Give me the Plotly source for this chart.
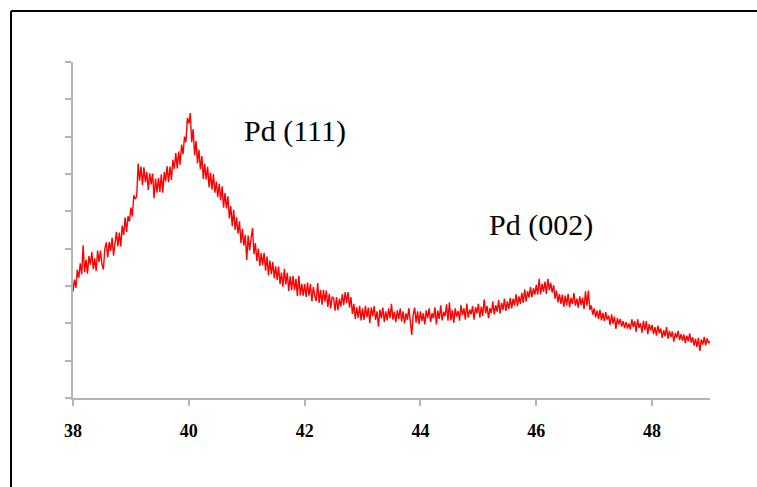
import numpy as np
import plotly.graph_objects as go

# XRD pattern, 2-theta from 38 to 49 deg (step 0.025)
two_theta_start = 38.0
two_theta_end = 49.0
intensity = [
    # 38.000 - 38.475
    285, 317, 295, 344, 322, 361, 331, 409, 337, 371, 333, 380, 357, 391, 345, 374, 340, 395, 364, 395,
    # 38.500 - 38.975
    358, 344, 400, 417, 377, 418, 394, 429, 381, 418, 445, 406, 443, 406, 462, 437, 483, 445, 487, 473,
    # 39.000 - 39.475
    510, 486, 543, 533, 540, 628, 582, 620, 570, 618, 578, 605, 557, 602, 572, 601, 535, 588, 550, 589,
    # 39.500 - 39.975
    552, 599, 550, 605, 580, 621, 578, 620, 584, 638, 614, 656, 615, 660, 625, 679, 653, 700, 685, 750,
    # 40.000 - 40.475
    735, 763, 685, 720, 650, 688, 628, 665, 612, 648, 587, 627, 585, 619, 564, 603, 558, 600, 550, 580,
    # 40.500 - 40.975
    538, 574, 530, 567, 510, 549, 508, 540, 481, 514, 460, 504, 450, 484, 440, 473, 415, 453, 408, 437,
    # 41.000 - 41.475
    370, 435, 395, 427, 455, 385, 415, 367, 400, 354, 388, 356, 389, 341, 379, 328, 368, 332, 364, 321,
    # 41.500 - 41.975
    353, 316, 352, 305, 336, 298, 346, 304, 335, 287, 326, 289, 327, 289, 319, 273, 327, 275, 306, 274,
    # 42.000 - 42.475
    305, 271, 309, 274, 305, 259, 298, 273, 260, 308, 255, 289, 250, 290, 258, 288, 244, 279, 240, 270,
    # 42.500 - 42.975
    268, 234, 270, 235, 266, 245, 278, 249, 284, 254, 284, 242, 270, 225, 252, 212, 243, 215, 247, 208,
    # 43.000 - 43.475
    240, 209, 247, 216, 242, 201, 243, 219, 246, 209, 232, 191, 237, 213, 242, 204, 232, 208, 240, 214,
    # 43.500 - 43.975
    252, 210, 231, 203, 235, 212, 240, 205, 232, 200, 227, 209, 241, 205, 169, 224, 242, 202, 232, 198,
    # 44.000 - 44.475
    232, 206, 227, 197, 235, 214, 240, 204, 227, 213, 243, 197, 234, 212, 248, 208, 231, 219, 251, 207,
    # 44.500 - 44.975
    256, 208, 235, 201, 240, 218, 233, 207, 249, 222, 240, 210, 253, 215, 237, 224, 246, 210, 243, 227,
    # 45.000 - 45.475
    252, 215, 245, 220, 264, 227, 247, 214, 241, 227, 258, 224, 249, 231, 262, 226, 255, 236, 266, 233,
    # 45.500 - 45.975
    259, 238, 268, 240, 266, 248, 278, 246, 272, 252, 282, 255, 291, 258, 286, 269, 297, 270, 294, 277,
    # 46.000 - 46.475
    303, 277, 319, 278, 306, 285, 312, 279, 319, 289, 308, 282, 302, 266, 288, 256, 278, 252, 277, 244,
    # 46.500 - 46.975
    274, 248, 279, 243, 268, 252, 281, 247, 266, 242, 272, 249, 269, 238, 286, 247, 288, 236, 248, 223,
    # 47.000 - 47.475
    240, 216, 234, 212, 236, 208, 228, 206, 230, 210, 220, 195, 224, 199, 218, 185, 214, 197, 212, 191,
    # 47.500 - 47.975
    206, 187, 203, 186, 200, 183, 211, 190, 206, 177, 211, 188, 200, 175, 207, 182, 206, 171, 198, 181,
    # 48.000 - 48.475
    196, 171, 190, 167, 194, 173, 186, 161, 182, 165, 190, 159, 180, 163, 178, 151, 174, 161, 180, 155,
    # 48.500 - 48.975
    171, 154, 170, 147, 167, 152, 173, 148, 163, 140, 159, 136, 161, 126, 157, 143, 164, 141, 160, 147,
    # 49.000
    152,
]
x_tick_values = [38, 40, 42, 44, 46, 48]
x_tick_labels = ["38", "40", "42", "44", "46", "48"]
peak_labels = ["Pd (111)", "Pd (002)"]
peak_label_x = [41.83, 46.08]
peak_label_y = [714, 463]

two_theta = np.linspace(two_theta_start, two_theta_end, len(intensity))

fig = go.Figure()
fig.add_trace(go.Scatter(
    x=two_theta, y=intensity, mode="lines",
    line=dict(color="#ff0000", width=1.4),
    showlegend=False, hoverinfo="skip",
))

for txt, xx, yy in zip(peak_labels, peak_label_x, peak_label_y):
    fig.add_annotation(
        x=xx, y=yy, text=txt, showarrow=False,
        font=dict(family="Liberation Serif", size=30, color="black"),
        xanchor="center", yanchor="middle",
    )

axis_gray = "#b4b4b4"
fig.update_xaxes(
    range=[38, 49], tickvals=x_tick_values, ticktext=x_tick_labels,
    ticks="outside", ticklen=6, tickwidth=1.5, tickcolor=axis_gray,
    showline=True, linecolor=axis_gray, linewidth=1.5,
    showgrid=False, zeroline=False, ticklabelstandoff=10,
    tickfont=dict(family="Liberation Serif", size=18, color="black", weight="bold"),
)
fig.update_yaxes(
    range=[0, 900], dtick=100, tick0=0,
    ticks="outside", ticklen=6, tickwidth=1.5, tickcolor=axis_gray,
    showline=True, linecolor=axis_gray, linewidth=1.5,
    showgrid=False, zeroline=False, showticklabels=False,
)

# outer chart border (left and top edges visible)
fig.add_shape(type="line", xref="paper", yref="paper",
              x0=(11 - 73) / 637, x1=(11 - 73) / 637, y0=(398 - 500) / 336, y1=(398 - 11) / 336,
              line=dict(color="black", width=2))
fig.add_shape(type="line", xref="paper", yref="paper",
              x0=(11 - 73) / 637, x1=(770 - 73) / 637, y0=(398 - 11) / 336, y1=(398 - 11) / 336,
              line=dict(color="black", width=2))

fig.update_layout(
    width=757, height=487,
    margin=dict(l=73, r=47, t=62, b=89),
    plot_bgcolor="white", paper_bgcolor="white",
)

fig.write_html("out.html")
